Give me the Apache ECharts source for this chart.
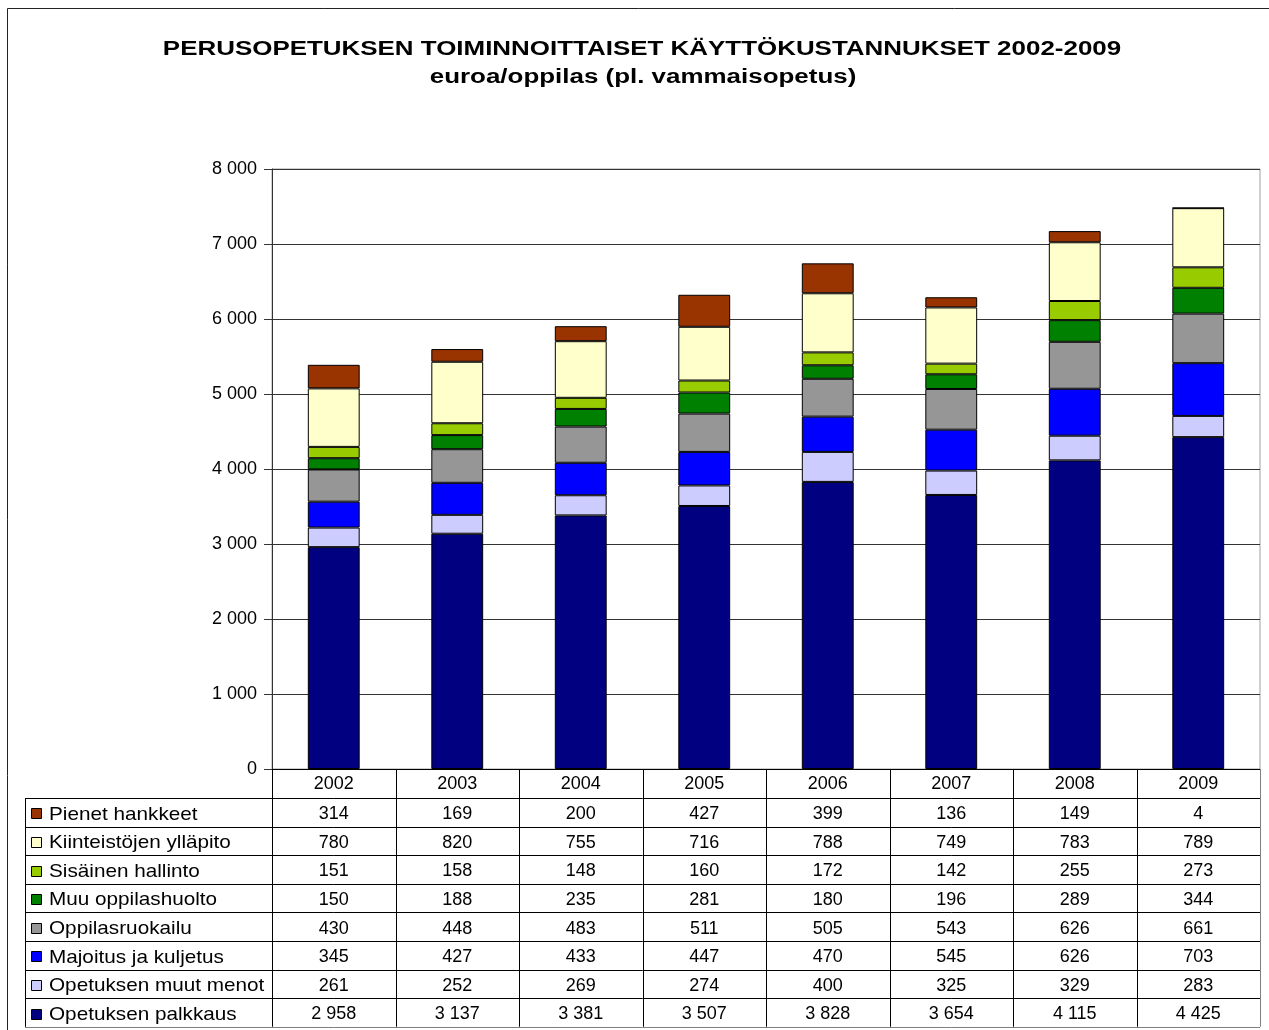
<!DOCTYPE html>
<html>
<head>
<meta charset="utf-8">
<script src="https://cdn.jsdelivr.net/npm/echarts@6/dist/echarts.min.js"></script>
<style>
html,body{margin:0;padding:0;background:#fff;}
#chart{width:1269px;height:1030px;}
</style>
</head>
<body>
<div id="chart"></div>
<script>
const titleText = 'PERUSOPETUKSEN TOIMINNOITTAISET KÄYTTÖKUSTANNUKSET 2002-2009';
const subtitleText = 'euroa/oppilas (pl. vammaisopetus)';
const years = ['2002','2003','2004','2005','2006','2007','2008','2009'];
const yTicks = [0,1000,2000,3000,4000,5000,6000,7000,8000];

const opetuksenPalkkaus   = [2958,3137,3381,3507,3828,3654,4115,4425];
const opetuksenMuutMenot  = [261,252,269,274,400,325,329,283];
const majoitusJaKuljetus  = [345,427,433,447,470,545,626,703];
const oppilasruokailu     = [430,448,483,511,505,543,626,661];
const muuOppilashuolto    = [150,188,235,281,180,196,289,344];
const sisainenHallinto    = [151,158,148,160,172,142,255,273];
const kiinteistojenYllapito = [780,820,755,716,788,749,783,789];
const pienetHankkeet      = [314,169,200,427,399,136,149,4];

const seriesDefs = [
  {name:'Opetuksen palkkaus', data:opetuksenPalkkaus, color:'#000080'},
  {name:'Opetuksen muut menot', data:opetuksenMuutMenot, color:'#CCCCFF'},
  {name:'Majoitus ja kuljetus', data:majoitusJaKuljetus, color:'#0000FF'},
  {name:'Oppilasruokailu', data:oppilasruokailu, color:'#969696'},
  {name:'Muu oppilashuolto', data:muuOppilashuolto, color:'#008000'},
  {name:'Sisäinen hallinto', data:sisainenHallinto, color:'#99CC00'},
  {name:'Kiinteistöjen ylläpito', data:kiinteistojenYllapito, color:'#FFFFCC'},
  {name:'Pienet hankkeet', data:pienetHankkeet, color:'#993300'}
];

const FONT = "'Liberation Sans', Arial, sans-serif";
function fmt(v){ return String(v).replace(/\B(?=(\d{3})+(?!\d))/g,' '); }

const chart = echarts.init(document.getElementById('chart'), null, {renderer:'canvas'});

chart.setOption({
  animation:false,
  backgroundColor:'#fff',
  textStyle:{fontFamily:FONT},
  grid:{left:272, right:9, top:169, bottom:261, show:true, borderColor:'#a0a0a0', borderWidth:1, containLabel:false},
  xAxis:{
    type:'category', data:years, boundaryGap:true,
    axisLine:{show:true, lineStyle:{color:'#000', width:1}},
    axisTick:{show:false},
    axisLabel:{show:true, fontSize:18, color:'#000', margin:6, fontFamily:FONT},
    splitLine:{show:false}
  },
  yAxis:{
    type:'value', min:yTicks[0], max:yTicks[yTicks.length-1], interval:1000,
    axisLine:{show:true, lineStyle:{color:'#333', width:1}},
    axisTick:{show:true, length:8, lineStyle:{color:'#333'}},
    axisLabel:{fontSize:18, color:'#000', margin:15, fontFamily:FONT, formatter:function(v){return fmt(v);}},
    splitLine:{show:true, lineStyle:{color:'#333', width:1}}
  },
  series: seriesDefs.map(s=>({
    name:s.name, type:'bar', stack:'total', data:s.data, barWidth:'42%',
    itemStyle:{color:s.color, borderColor:'#000', borderWidth:1}
  }))
});

// Build title and data table below the plot from the axis scale
function buildTable(){
  const c0 = chart.convertToPixel({xAxisIndex:0}, 0);
  const c1 = chart.convertToPixel({xAxisIndex:0}, 1);
  const band = c1 - c0;
  const left = c0 - band/2;
  const right = left + band*years.length;
  const y0 = chart.convertToPixel({yAxisIndex:0}, 0);
  const headerH = 29;
  const rowH = 28.6;
  const tableLeft = 25;
  const rowsTop = y0 + headerH;
  const rows = seriesDefs.slice().reverse();
  const tableBottom = rowsTop + rowH*rows.length;
  const g = [];
  const line = (x1,y1,x2,y2,c)=>g.push({type:'line', silent:true, z:100,
      shape:{x1:x1,y1:y1,x2:x2,y2:y2}, style:{stroke:c||'#000', lineWidth:1}});
  // outer frame of the picture
  g.push({type:'rect', silent:true, z:0, shape:{x:7.5,y:8.5,width:1275,height:1040},
    style:{fill:null, stroke:'#222', lineWidth:1}});
  // title
  g.push({type:'text', silent:true, z:101, x:642, y:50, scaleX:1.33,
    style:{text:titleText, fontSize:19.5, fontWeight:'bold', fontFamily:FONT, fill:'#000', textAlign:'center', textVerticalAlign:'middle'}});
  g.push({type:'text', silent:true, z:101, x:643, y:77.5, scaleX:1.33,
    style:{text:subtitleText, fontSize:19.5, fontWeight:'bold', fontFamily:FONT, fill:'#000', textAlign:'center', textVerticalAlign:'middle'}});
  // vertical lines
  for(let i=0;i<=years.length;i++){
    const x = Math.round(left + band*i)+0.5;
    line(x, y0, x, tableBottom, i===years.length? '#808080':'#000');
  }
  line(tableLeft+0.5, rowsTop, tableLeft+0.5, tableBottom, '#000');
  // horizontal lines
  for(let r=0;r<=rows.length;r++){
    const y = Math.round(rowsTop + rowH*r)+0.5;
    line(tableLeft, y, right, y, r===rows.length? '#808080':'#000');
  }
  rows.forEach((s,r)=>{
    const cy = rowsTop + rowH*r + rowH/2;
    g.push({type:'rect', silent:true, z:101, shape:{x:31.5,y:Math.round(cy-4)+0.5,width:10,height:10},
      style:{fill:s.color, stroke:'#000', lineWidth:1}});
    g.push({type:'text', silent:true, z:101, x:49, y:cy+2, scaleX:1.09,
      style:{text:s.name, fontSize:19, fontFamily:FONT, fill:'#000', textVerticalAlign:'middle', textAlign:'left'}});
    s.data.forEach((v,i)=>{
      g.push({type:'text', silent:true, z:101, x:left + band*i + band/2, y:cy+2,
        style:{text:fmt(v), fontSize:18, fontFamily:FONT, fill:'#000', textAlign:'center', textVerticalAlign:'middle'}});
    });
  });
  chart.setOption({graphic:g});
}
buildTable();
</script>
</body>
</html>
